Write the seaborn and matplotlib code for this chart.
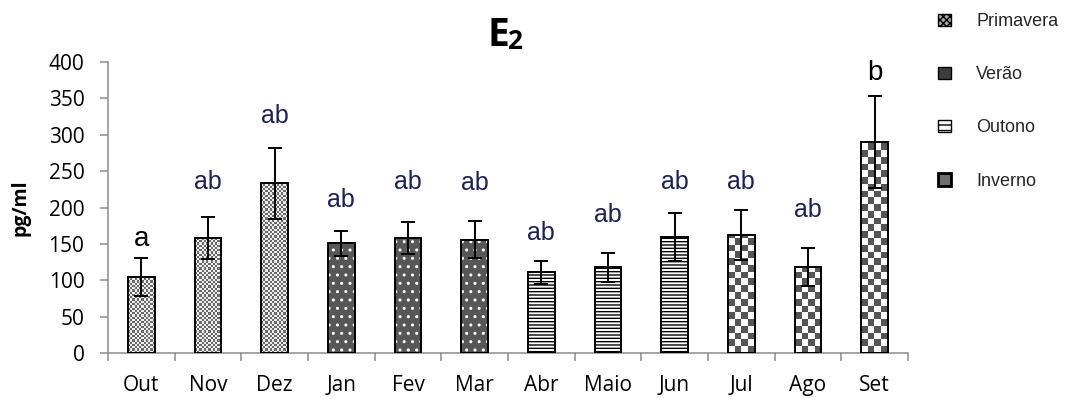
import numpy as np
import pandas as pd
import matplotlib
matplotlib.use("Agg")
import matplotlib.pyplot as plt
from matplotlib.patches import Patch, Rectangle
from matplotlib.colors import ListedColormap
import seaborn as sns

# Monthly E2 concentration (pg/ml), mean and error, with season and test letters
months = ["Out", "Nov", "Dez", "Jan", "Fev", "Mar", "Abr", "Maio", "Jun", "Jul", "Ago", "Set"]
seasons = ["Primavera", "Primavera", "Primavera", "Verão", "Verão", "Verão",
           "Outono", "Outono", "Outono", "Inverno", "Inverno", "Inverno"]
e2_mean = [105, 158, 233, 151, 158, 156, 111, 118, 160, 162, 118, 290]
e2_err = [26, 29, 49, 17, 22, 26, 16, 20, 33, 34, 26, 63]
letters = ["a", "ab", "ab", "ab", "ab", "ab", "ab", "ab", "ab", "ab", "ab", "b"]
letter_y = [157, 235, 326, 210, 235, 234, 165, 190, 235, 235, 197, 385]
season_order = ["Primavera", "Verão", "Outono", "Inverno"]

df = pd.DataFrame({"mes": months, "estacao": seasons, "E2": e2_mean})

sns.set_theme(style="white")
plt.rcParams["font.family"] = ["Open Sans", "DejaVu Sans"]
plt.rcParams["hatch.linewidth"] = 1.0

fig = plt.figure(figsize=(10.72, 3.99), dpi=100)
ax = fig.add_axes([108 / 1072, 46 / 399, 800 / 1072, 291 / 399])

# face colour and hatch for each season; checker textures are drawn as images
face = {"Primavera": "white", "Verão": "#575757", "Outono": "white", "Inverno": "white"}
hatch = {"Verão": "..", "Outono": "-----"}
hatch_col = {"Verão": "white", "Outono": "black"}
# (columns per bar, cell height in data units, dark colour, light colour)
checker = {"Primavera": (12, 3.1, "#6a6a6a", "#eeeeee"),
           "Inverno": (4, 9.3, "#555555", "white")}

sns.barplot(data=df, x="mes", y="E2", hue="estacao", hue_order=season_order,
            order=months, dodge=False, width=0.4, palette=face,
            edgecolor="black", linewidth=0, legend=False, ax=ax)

bar_x = {}
for season, cont in zip(season_order, ax.containers):
    for bar in cont:
        x0, y0 = bar.get_xy()
        w, h = bar.get_width(), bar.get_height()
        idx = int(round(x0 + w / 2))
        bar_x[idx] = x0 + w / 2
        if season in hatch:
            ax.add_patch(Rectangle((x0, y0), w, h, fill=False, hatch=hatch[season],
                                   edgecolor=hatch_col[season], linewidth=0, zorder=2.5))
        else:
            ncol, cell, dark, light = checker[season]
            ny = int(np.ceil(h / cell))
            grid = (np.add.outer(np.arange(ny), np.arange(ncol)) % 2).astype(float)
            img = ax.imshow(grid, cmap=ListedColormap([light, dark]),
                            extent=(x0, x0 + w, 0, ny * cell), origin="lower",
                            aspect="auto", interpolation="nearest", zorder=2.5)
            img.set_clip_path(bar)
        ax.add_patch(Rectangle((x0, y0), w, h, fill=False, edgecolor="black",
                               linewidth=1.4, zorder=3))

ax.set_xlim(-0.5, len(months) - 0.5)
ax.set_ylim(0, 400)
ax.set_aspect("auto")

xs = [bar_x[i] for i in range(len(months))]
ax.errorbar(xs, e2_mean, yerr=e2_err, fmt="none", ecolor="black",
            elinewidth=1.4, capsize=5, capthick=1.4, zorder=4)

for x, txt, y in zip(xs, letters, letter_y):
    single = len(txt) == 1
    ax.text(x, y, txt, ha="center", va="center",
            fontsize=20 if single else 18, family="Liberation Sans",
            color="black" if single else "#1a2258", zorder=5)

# axes styling
for side in ["top", "right"]:
    ax.spines[side].set_visible(False)
for side in ["left", "bottom"]:
    ax.spines[side].set_color("#8c8c8c")
    ax.spines[side].set_linewidth(1.1)

ax.set_yticks(np.arange(0, 401, 50))
ax.tick_params(axis="y", which="major", direction="out", length=6, width=1.1,
               color="#8c8c8c", pad=11, labelsize=15, left=True, labelcolor="black")
ax.set_xticks(range(len(months)))
ax.set_xticklabels(months)
ax.set_xticks(np.arange(-0.5, len(months), 1.0), minor=True)
ax.tick_params(axis="x", which="major", length=0, pad=16, labelsize=15, labelcolor="black")
ax.tick_params(axis="x", which="minor", direction="out", length=6, width=1.1,
               color="#8c8c8c", bottom=True)
ax.set_xlabel("")
ax.set_ylabel("pg/ml", fontsize=14, fontweight="bold", color="black")
ax.yaxis.set_label_coords(-0.097, 0.5)
ax.grid(False)

# title "E2" with a small bold 2
title = fig.text(0.5 * (108 + 908) / 1072 - 0.009, 1 - 46 / 399, "E", fontsize=28,
                 fontweight="bold", ha="center", va="baseline", color="black")
ax.annotate("2", xy=(1, 0), xycoords=title, xytext=(-1.5, 0), textcoords="offset points",
            fontsize=19, fontweight="bold", ha="left", va="bottom", color="black")

# season legend
handles = [
    Patch(facecolor="#a8a8a8", edgecolor="black", hatch="xxxxx", linewidth=1.0),
    Patch(facecolor="#3c3c3c", edgecolor="black", linewidth=1.0),
    Patch(facecolor="white", edgecolor="black", hatch="---", linewidth=1.0),
    Patch(facecolor="#6e6e6e", edgecolor="black", linewidth=2.0),
]
leg = fig.legend(handles, season_order, loc="upper left",
                 bbox_to_anchor=(922 / 1072, 1 + 3 / 399), frameon=False,
                 prop={"family": "Liberation Sans", "size": 13},
                 handlelength=0.7, handleheight=0.7, handletextpad=1.4,
                 labelspacing=2.0)

fig.savefig("out.png", dpi=100)
